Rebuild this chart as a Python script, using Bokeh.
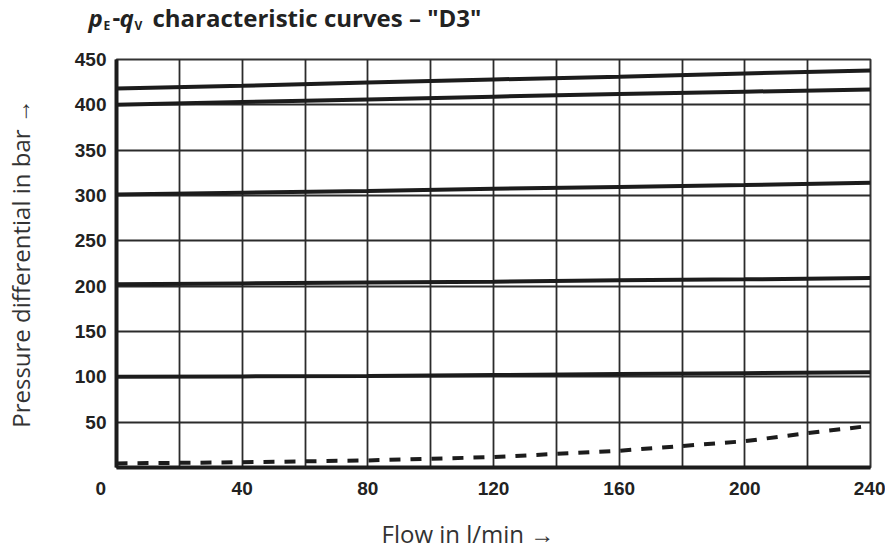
from bokeh.plotting import figure
from bokeh.layouts import column
from bokeh.models import Range1d, FixedTicker
from bokeh.core.properties import value
from bokeh.embed import file_html
from bokeh.resources import INLINE

# ---- data ----
flow = [0, 40, 80, 120, 160, 200, 240]
curve_420 = [418, 421, 424.5, 428, 431, 434.5, 438]
curve_400 = [400, 403, 406, 409, 412, 414.5, 417]
curve_300 = [301, 303, 305, 307.5, 309.5, 311.5, 314]
curve_200 = [202, 203, 204, 205, 206.5, 207.5, 209]
curve_100 = [100, 100.5, 101, 102, 103, 104, 105]

flow_min = [0, 40, 80, 120, 160, 200, 220, 240]
curve_min = [4.5, 5.8, 7.8, 11.5, 18.5, 29, 38, 46]

x_ticks = [0, 40, 80, 120, 160, 200, 240]
x_grid = [0, 20, 40, 60, 80, 100, 120, 140, 160, 180, 200, 220, 240]
y_ticks = [50, 100, 150, 200, 250, 300, 350, 400, 450]
y_grid = [0, 50, 100, 150, 200, 250, 300, 350, 400, 450]

x_title = "Flow in l/min \u2192"
y_title = "Pressure differential in bar \u2192"

TICK_FONT = "Liberation Sans"
LABEL_FONT = "Open Sans"
INK = "#1c1c1c"
TXT = "#222222"

W = 885
TITLE_H = 45
MAIN_H = 462
XLAB_H = 43


def strip(h):
    s = figure(width=W, height=h, x_range=Range1d(0, W), y_range=Range1d(0, h),
               output_backend="svg", toolbar_location=None,
               x_axis_location=None, y_axis_location=None, min_border=0)
    s.grid.visible = False
    s.outline_line_color = None
    s.background_fill_color = "white"
    s.border_fill_color = "white"
    s.frame_align = False
    return s


# ---- title strip (italic symbols with subscripts) ----
t = strip(TITLE_H)


def piece(text, x, y, size, style):
    t.text(x=[x], y=[y], text=[text], text_font=value(LABEL_FONT),
           text_font_size=size, text_font_style=style, text_color=TXT,
           text_baseline="alphabetic", text_align="left")


piece("p", 88, 28, "24px", "bold italic")
piece("E", 103, 20, "12px", "bold")
piece("-", 112, 28, "24px", "bold")
piece("q", 119, 28, "24px", "bold italic")
piece("V", 134, 20, "12px", "bold")
piece("characteristic curves \u2013 \"D3\"", 152, 28, "24px", "bold")

# ---- main chart ----
p = figure(width=W, height=MAIN_H, x_range=Range1d(0, 240), y_range=Range1d(0, 450),
           output_backend="svg", toolbar_location=None,
           min_border_left=115, min_border_right=15, min_border_top=14, min_border_bottom=40)
p.frame_align = False
p.background_fill_color = "white"
p.border_fill_color = "white"
p.outline_line_color = "#333333"
p.outline_line_width = 2

p.xaxis.ticker = FixedTicker(ticks=x_ticks)
p.yaxis.ticker = FixedTicker(ticks=y_ticks)
p.xgrid.ticker = FixedTicker(ticks=x_grid)
p.ygrid.ticker = FixedTicker(ticks=y_grid)
p.xaxis.major_label_overrides = {0: "0" + "\u00a0" * 6}

for g in (p.xgrid, p.ygrid):
    g.grid_line_color = "#2b2b2b"
    g.grid_line_width = 1.8
    g.grid_line_alpha = 1.0

for ax in (p.xaxis, p.yaxis):
    ax.axis_line_width = 4
    ax.axis_line_color = INK
    ax.major_tick_out = 0
    ax.major_tick_in = 0
    ax.minor_tick_line_color = None
    ax.major_label_text_font = TICK_FONT
    ax.major_label_text_font_style = "bold"
    ax.major_label_text_font_size = "19px"
    ax.major_label_text_color = TXT
    ax.axis_label_text_font = LABEL_FONT
    ax.axis_label_text_font_style = "normal"
    ax.axis_label_text_font_size = "24px"
    ax.axis_label_text_color = "#333333"

p.xaxis.major_label_standoff = 10
p.yaxis.major_label_standoff = 10
p.yaxis.axis_label = y_title
p.yaxis.axis_label_standoff = 35

for ys in (curve_420, curve_400, curve_300, curve_200, curve_100):
    p.line(flow, ys, line_color=INK, line_width=4)

p.line(flow_min, curve_min, line_color=INK, line_width=4, line_dash="11 10")

# ---- x-axis title strip ----
b = strip(XLAB_H)
b.text(x=[381], y=[17], text=[x_title], text_font=value(LABEL_FONT),
       text_font_size="24px", text_color="#333333",
       text_baseline="alphabetic", text_align="left")

layout = column(t, p, b, spacing=0)
open("out.html", "w").write(file_html(layout, INLINE))
